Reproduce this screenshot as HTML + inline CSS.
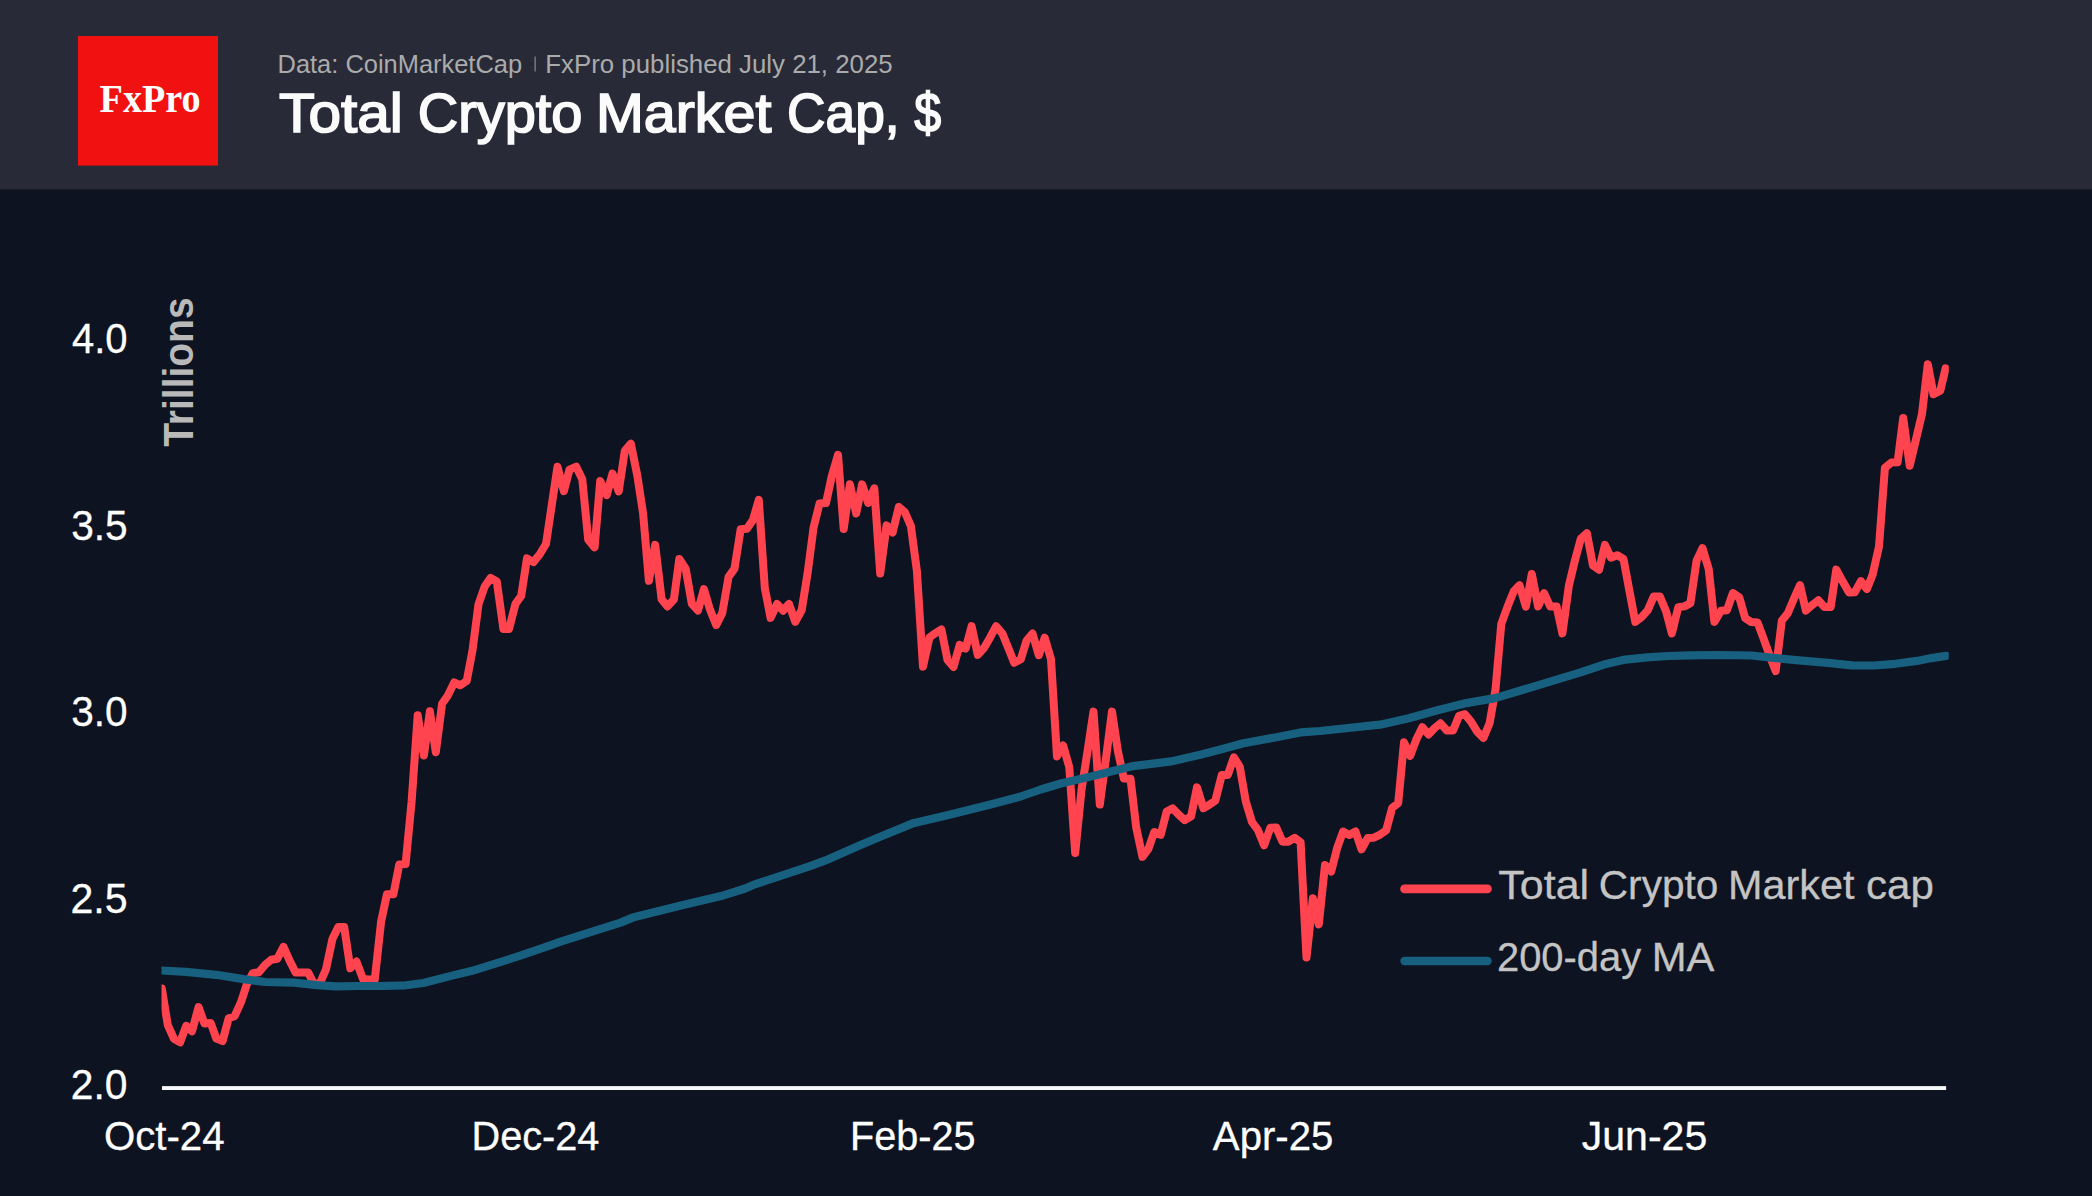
<!DOCTYPE html>
<html lang="en">
<head>
<meta charset="utf-8">
<title>Total Crypto Market Cap, $</title>
<style>
html,body{margin:0;padding:0;background:#0d1320;}
body{width:2092px;height:1196px;overflow:hidden;font-family:"Liberation Sans",sans-serif;}
svg{display:block;}
text{font-family:"Liberation Sans",sans-serif;}
text.serif{font-family:"Liberation Serif",serif;}
</style>
</head>
<body>
<svg width="2092" height="1196" viewBox="0 0 2092 1196">
<defs><clipPath id="plot"><rect x="161.5" y="200" width="1787.3" height="900"/></clipPath></defs>
<rect x="0" y="0" width="2092" height="1196" fill="#0d1320"/>
<rect x="0" y="0" width="2092" height="189.4" fill="#282a37"/>
<rect x="78" y="36" width="140" height="129.6" fill="#f11111"/>
<rect x="534.5" y="56.5" width="1.2" height="15" fill="#8a8a8a"/>
<text x="279.14" y="132.4" font-size="56" fill="#fbfbfb" stroke="#fbfbfb" stroke-width="1.7" textLength="123.59" lengthAdjust="spacingAndGlyphs">Total</text>
<text x="417.75" y="132.4" font-size="56" fill="#fbfbfb" stroke="#fbfbfb" stroke-width="1.7" textLength="164.73" lengthAdjust="spacingAndGlyphs">Crypto</text>
<text x="595.93" y="132.4" font-size="56" fill="#fbfbfb" stroke="#fbfbfb" stroke-width="1.7" textLength="175.43" lengthAdjust="spacingAndGlyphs">Market</text>
<text x="787.06" y="132.4" font-size="56" fill="#fbfbfb" stroke="#fbfbfb" stroke-width="1.7" textLength="112.52" lengthAdjust="spacingAndGlyphs">Cap,</text>
<text x="914.30" y="132.4" font-size="56" fill="#fbfbfb" stroke="#fbfbfb" stroke-width="1.7" textLength="26.92" lengthAdjust="spacingAndGlyphs">$</text>
<text x="277.54" y="72.6" font-size="25.6" fill="#ababab"  textLength="244.57" lengthAdjust="spacingAndGlyphs">Data: CoinMarketCap</text>
<text x="545.33" y="72.6" font-size="25.6" fill="#ababab"  textLength="347.30" lengthAdjust="spacingAndGlyphs">FxPro published July 21, 2025</text>
<text class="serif" x="99.62" y="111.8" font-size="40.3" fill="#ffffff" font-weight="bold" textLength="101.10" lengthAdjust="spacingAndGlyphs">FxPro</text>
<text x="71.92" y="353.0" font-size="41.9" fill="#ffffff" stroke="#ffffff" stroke-width="0.3" textLength="55.62" lengthAdjust="spacingAndGlyphs">4.0</text>
<text x="71.16" y="539.6" font-size="41.9" fill="#ffffff" stroke="#ffffff" stroke-width="0.3" textLength="56.50" lengthAdjust="spacingAndGlyphs">3.5</text>
<text x="71.24" y="726.2" font-size="41.9" fill="#ffffff" stroke="#ffffff" stroke-width="0.3" textLength="56.36" lengthAdjust="spacingAndGlyphs">3.0</text>
<text x="70.47" y="912.8" font-size="41.9" fill="#ffffff" stroke="#ffffff" stroke-width="0.3" textLength="57.18" lengthAdjust="spacingAndGlyphs">2.5</text>
<text x="70.74" y="1099.3" font-size="41.9" fill="#ffffff" stroke="#ffffff" stroke-width="0.3" textLength="56.70" lengthAdjust="spacingAndGlyphs">2.0</text>
<text x="103.91" y="1150.3" font-size="41.2" fill="#ffffff" stroke="#ffffff" stroke-width="0.3" textLength="120.67" lengthAdjust="spacingAndGlyphs">Oct-24</text>
<text x="471.50" y="1150.3" font-size="41.2" fill="#ffffff" stroke="#ffffff" stroke-width="0.3" textLength="127.92" lengthAdjust="spacingAndGlyphs">Dec-24</text>
<text x="850.06" y="1150.3" font-size="41.2" fill="#ffffff" stroke="#ffffff" stroke-width="0.3" textLength="125.57" lengthAdjust="spacingAndGlyphs">Feb-25</text>
<text x="1212.87" y="1150.3" font-size="41.2" fill="#ffffff" stroke="#ffffff" stroke-width="0.3" textLength="120.52" lengthAdjust="spacingAndGlyphs">Apr-25</text>
<text x="1581.77" y="1150.3" font-size="41.2" fill="#ffffff" stroke="#ffffff" stroke-width="0.3" textLength="125.43" lengthAdjust="spacingAndGlyphs">Jun-25</text>
<text x="1498.32" y="899.4" font-size="40.6" fill="#c4c4c4" stroke="#c4c4c4" stroke-width="0.3" textLength="90.86" lengthAdjust="spacingAndGlyphs">Total</text>
<text x="1598.81" y="899.4" font-size="40.6" fill="#c4c4c4" stroke="#c4c4c4" stroke-width="0.3" textLength="119.59" lengthAdjust="spacingAndGlyphs">Crypto</text>
<text x="1728.09" y="899.4" font-size="40.6" fill="#c4c4c4" stroke="#c4c4c4" stroke-width="0.3" textLength="126.49" lengthAdjust="spacingAndGlyphs">Market</text>
<text x="1865.99" y="899.4" font-size="40.6" fill="#c4c4c4" stroke="#c4c4c4" stroke-width="0.3" textLength="67.80" lengthAdjust="spacingAndGlyphs">cap</text>
<text x="1497.01" y="971.4" font-size="40.6" fill="#c4c4c4" stroke="#c4c4c4" stroke-width="0.3" textLength="144.17" lengthAdjust="spacingAndGlyphs">200-day</text>
<text x="1651.65" y="971.4" font-size="40.6" fill="#c4c4c4" stroke="#c4c4c4" stroke-width="0.3" textLength="62.65" lengthAdjust="spacingAndGlyphs">MA</text>
<text transform="translate(192.9,446.8) rotate(-90)" font-size="42.6" font-weight="bold" fill="#b9b9b9" textLength="149.4" lengthAdjust="spacingAndGlyphs">Trillions</text>
<rect x="162" y="1086.1" width="1784.1" height="3.9" fill="#f8f8f8"/>
<g clip-path="url(#plot)" fill="none" stroke-linejoin="round" stroke-linecap="round">
<polyline stroke="#ff444f" stroke-width="8.0" points="161.8,988.5 167.8,1025.1 174,1038.9 180.1,1042.4 186.2,1025.8 192,1031.2 198.6,1007.1 204.4,1023.4 210.7,1023 216.4,1038.6 222.6,1041.1 228.7,1018.2 234.6,1016.2 240.9,1002.4 246.6,984.9 252.8,973.1 258.9,972.2 265.2,964.7 271.2,959.7 277.4,958.7 283.5,946.9 289.5,960.4 295.7,972.6 301.7,972.6 308.2,972.6 314,984 320,983 326,969.3 332.4,939.1 338.3,927 344.2,927 350.3,968.3 356.5,961.6 363,979 368.6,979.4 374.8,979.4 381.1,921.6 387,894.2 393.4,894.2 399.3,864.4 405.6,864 411.6,801.8 417.7,715.3 423.9,755.5 429.9,711.2 435.8,752.2 442.1,703.8 447.7,695.8 454.2,682.5 460.4,685.3 466.7,681 472.5,650.5 478.5,604.2 484.7,586.5 490.7,577.9 496.8,581.5 503.4,629 509,629 515.5,603.8 521.2,595.9 527,558.4 533.4,562.1 539.6,554.5 546,544 551.8,504.9 557.5,466.7 563.9,491.2 569.5,469.6 576.2,466.7 582.3,479.3 588.2,539.7 594.6,547.3 600.2,481.1 606.7,495.1 612.5,473.5 618.7,491.5 624.8,450.9 630.9,443.7 637.4,476.1 643.1,513.5 648.9,580.8 655.2,544.9 661.6,599.2 667.5,606.4 673.9,599.5 679.3,559 685.7,568.7 691.8,603.8 698,610.5 703.9,589.2 710,609.6 716.2,625.1 722.3,612.9 728.6,576.9 734.5,568.7 740.7,529.2 746.9,528.8 752.9,520.1 758.8,499.9 764.8,588 770.6,617.9 777.1,604 783.1,610.7 789,604 795.3,621.8 801.7,610 807.5,573.9 813.5,527.9 819.6,503.4 826,503.1 831.8,476.1 838,454.9 843.7,528.9 849.9,484.3 856.2,513.5 862.1,484.3 868.2,503 874.3,488.3 880.2,573.5 886.6,525.4 892.6,532.5 898.8,507 904.8,512 910.9,526.1 916.9,571 923,666.7 929.5,637.4 935.2,633.3 941.4,629.5 947.5,660 953.5,666.9 959.7,644.9 965.7,648.5 971.6,626.2 977.8,654.9 984,648 990,637.7 996.2,626.2 1002.4,633.6 1008.3,648 1014.2,662.8 1020.8,659.2 1026.6,640.5 1032.5,633.6 1038.8,655.2 1044.7,637.7 1051,659.2 1057,756.4 1063.1,745.4 1069.3,767.2 1075.2,853 1081.6,789.2 1087.5,751.4 1093.5,711.6 1099.8,804.6 1105.9,759 1112,711.6 1117.9,751.1 1123.8,778.5 1130.5,778.7 1136.2,827.4 1142.5,856.8 1148.4,848.9 1154.3,832 1160.7,834.8 1166.7,811.5 1172.7,808.4 1178.8,814.8 1184.8,820.2 1191.1,816.3 1197,787.4 1203.4,808.2 1209.3,804.8 1215.3,800.7 1221.8,775.1 1227.8,774.9 1233.9,757.3 1239.8,766.9 1245.8,801.5 1252,822 1258,830.2 1264.1,845.3 1270.3,827.8 1276.3,827.6 1282.5,841.7 1288.4,841.7 1294.6,837.8 1300.6,842.2 1306.5,957.5 1312.9,898.2 1318.8,924.4 1325,865 1331.2,871.6 1337.1,848.2 1343.1,831.6 1349.2,834.9 1355.5,831.4 1361.5,849.3 1367.7,838.1 1373.8,837.7 1379.8,834.8 1386.1,830.5 1392.2,807.9 1398.2,803.2 1404,742.3 1410.2,755.9 1416.2,739.8 1422.3,727.2 1428.5,734.4 1434.7,728 1440.5,723.3 1446.9,730.5 1453.1,730.5 1459.1,715.8 1464.9,714.2 1471,721.6 1477.2,731.6 1483.4,738 1489.6,723.3 1495.5,689.5 1501.3,623.9 1507.6,606.6 1513.8,591.3 1519.5,585.2 1525.9,606.6 1531.8,574 1538.1,606.4 1544.1,593.1 1550.3,606.6 1556.6,606.6 1562.4,633.4 1568.9,585.5 1574.6,561.8 1580.8,538.8 1586.9,533.3 1593,565.4 1599.1,569.7 1605,544.8 1610.9,557.7 1617.3,555.3 1623.5,558.9 1629.4,590.8 1635.3,621.9 1641.6,617.1 1647.7,610.4 1653.7,596.6 1659.9,596.6 1666,611.1 1671.9,633.4 1678.3,607.1 1684.4,606.4 1690.4,603.2 1696.6,560.6 1702.5,548.1 1708.7,569 1714.4,621.9 1721,610.7 1726.9,610.2 1732.9,593.1 1739.3,597.4 1745.2,618.2 1751.3,622.1 1757.5,622.4 1763.4,638.2 1769.4,654.8 1775.7,671 1781.8,620.7 1787.8,613.2 1793.9,598.8 1800,585.2 1805.9,610.6 1812.1,605.1 1818.3,600.3 1824.5,607 1830.7,607 1836.3,569.6 1842.5,581.1 1849.1,592.6 1854.8,592.3 1860.9,581.1 1866.9,589 1872.7,574.4 1879,546.6 1884.9,467.9 1891.4,462.5 1897.6,462.2 1903.2,417.9 1909.7,465.8 1915.6,441 1922,414 1927.8,364.2 1933.5,394.3 1940.3,390.7 1945.6,368.4"/>
<polyline stroke="#17607f" stroke-width="8.2" points="155.8,970.2 161.5,970.5 186,971.9 216.2,974.8 243.5,979.1 265.1,982 293.8,982.7 316.8,985.1 335.5,986.3 358.5,986 380.1,986 406,985.3 423.3,983 452,975.6 472.1,970.8 520.3,955.7 552.4,944.7 560.5,941.7 620.7,922.6 632.7,917.6 680.9,905.6 721.1,896.1 745.2,888.5 753.2,884.9 809.4,866.4 825.5,860.4 860,845.3 880.1,836.7 912.2,823.6 950.4,814.6 990.5,804.5 1020.6,796.5 1040.7,789.5 1060.8,783.5 1090.9,776.4 1111,771.4 1131.1,766.4 1171.2,761.4 1201.3,754.4 1221.4,749.3 1243.5,743.3 1278.9,736.7 1300.5,732.4 1320,731 1380,724.7 1408.8,718.2 1437.5,710.3 1466.3,703.1 1495.1,698.1 1523.8,689.5 1552.6,680.9 1581.4,672.2 1603.8,664.6 1625.4,659.6 1647,657.4 1668.5,656 1690.1,655.3 1718.9,655 1751.6,655.5 1773.1,657.8 1801.9,660.7 1830.7,663.1 1852.2,665.3 1873.8,665.5 1895.4,663.8 1917,660.9 1931.4,658.1 1946,655.9"/>
</g>
<line x1="1404.5" y1="888.9" x2="1487.5" y2="888.9" stroke="#ff444f" stroke-width="8.6" stroke-linecap="round"/>
<line x1="1404.5" y1="961" x2="1487.5" y2="961" stroke="#17607f" stroke-width="8.4" stroke-linecap="round"/>
</svg>
</body>
</html>
